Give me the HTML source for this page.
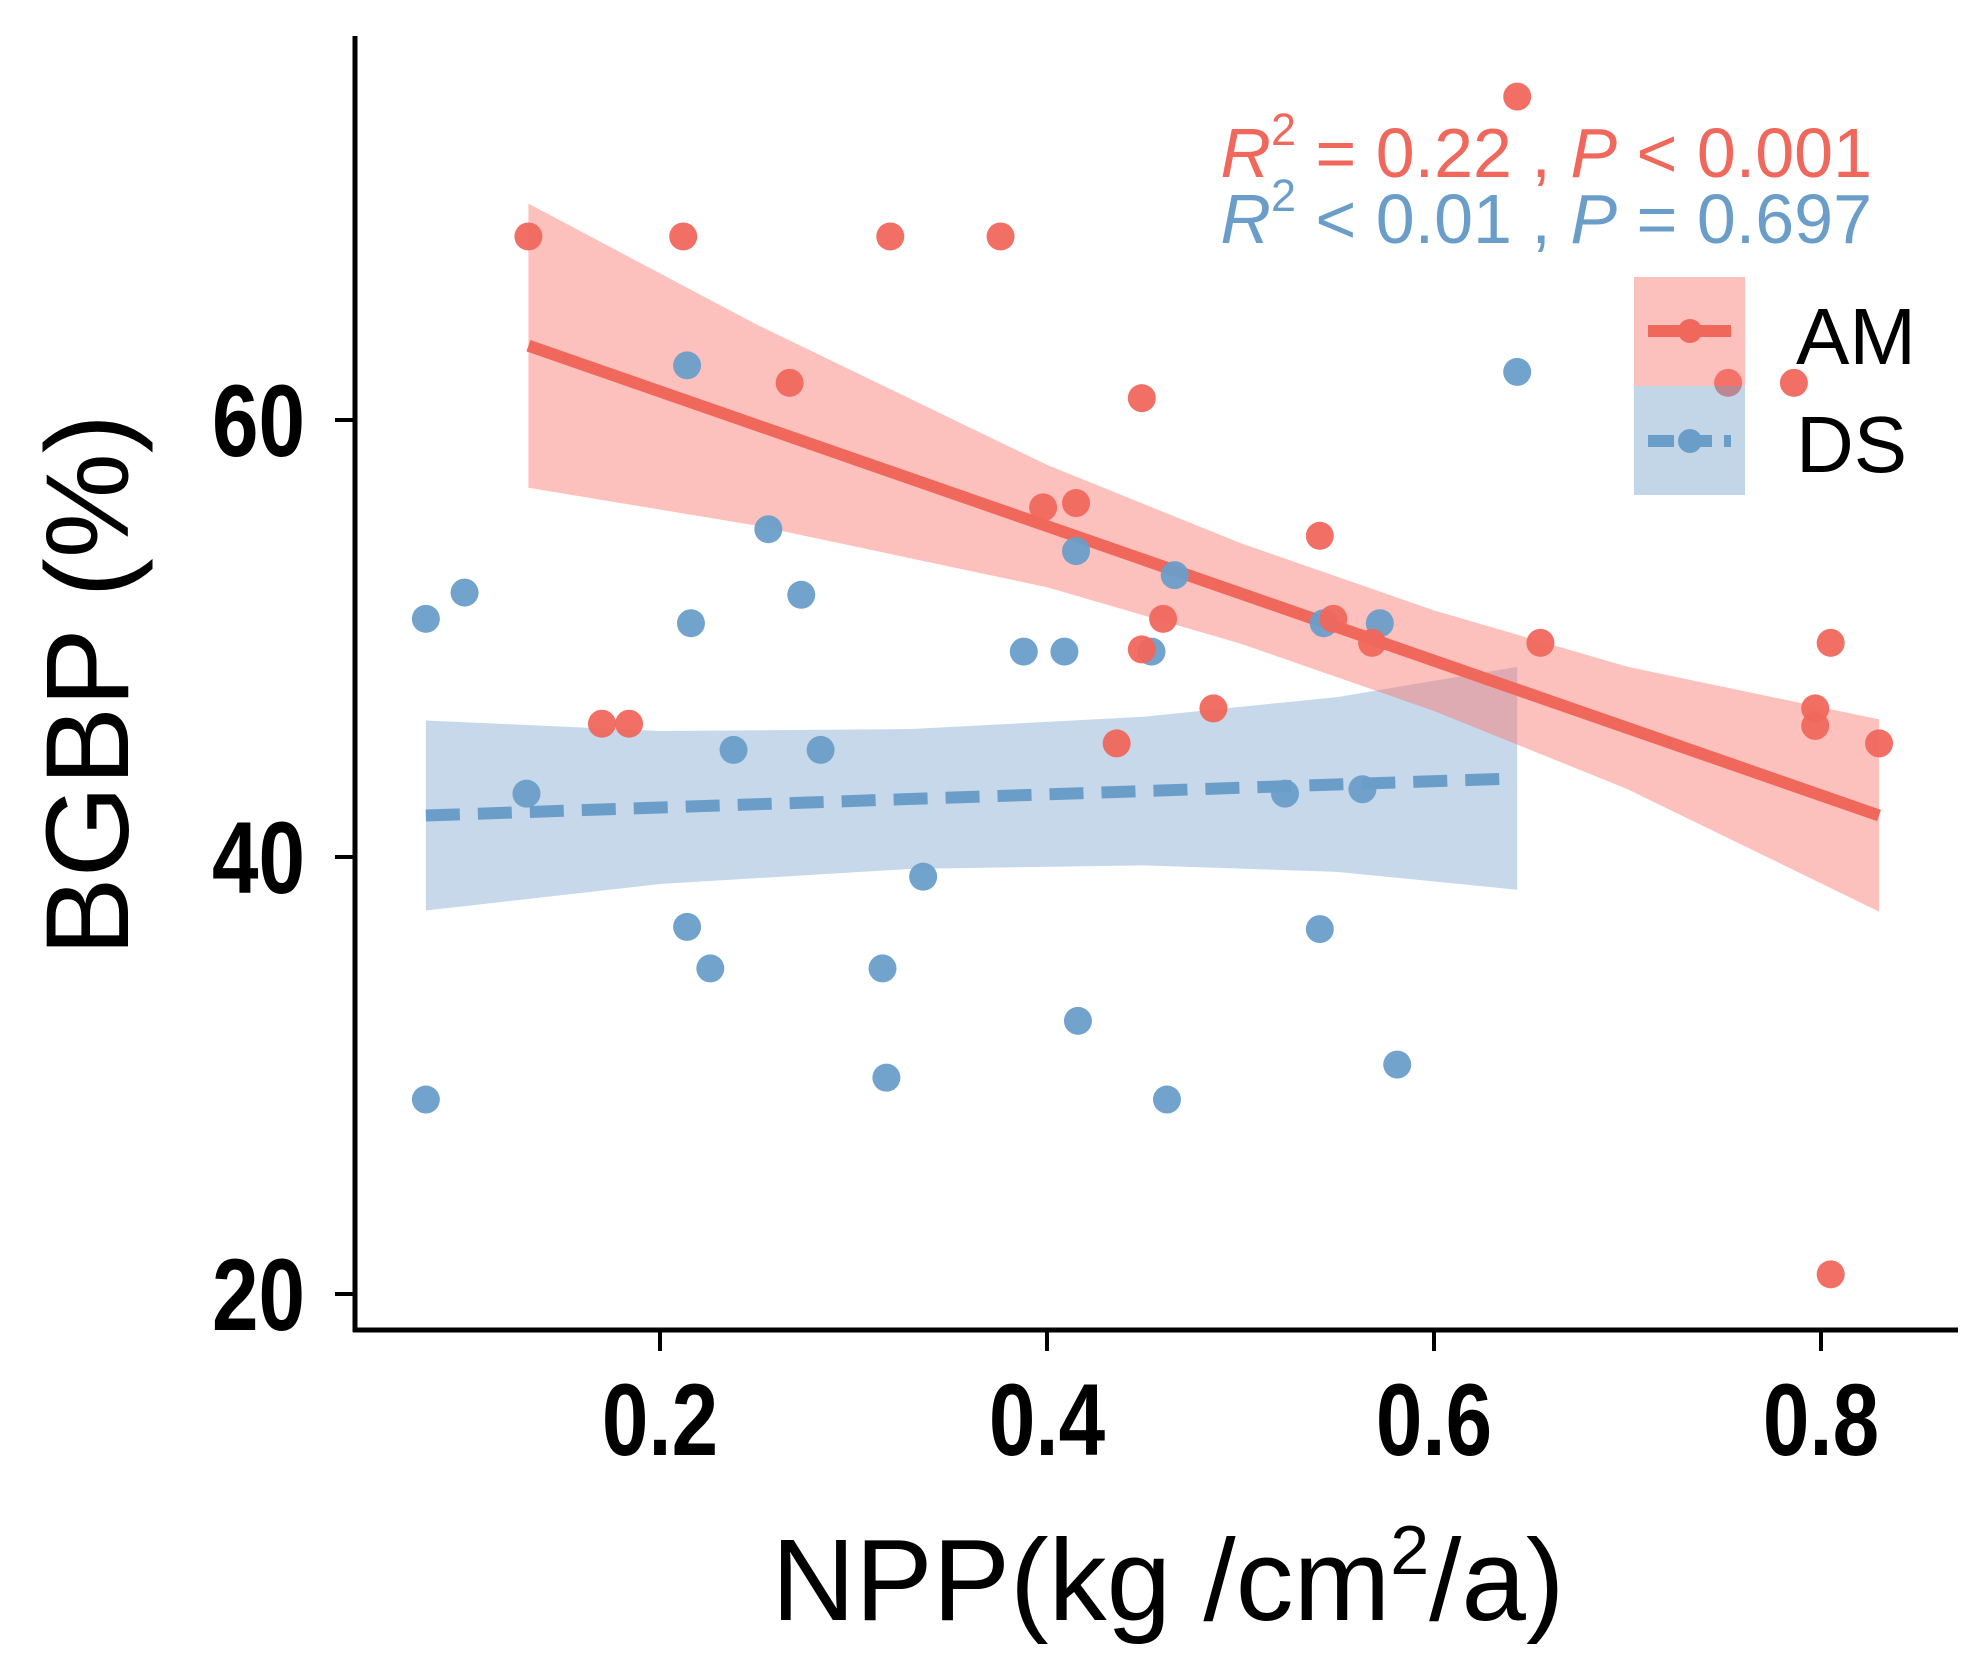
<!DOCTYPE html>
<html><head><meta charset="utf-8"><style>
html,body{margin:0;padding:0;background:#fff;}
svg{display:block;font-family:"Liberation Sans",Arial,sans-serif;}
</style></head><body>
<svg id="chart" width="1980" height="1672" viewBox="0 0 1980 1672" xmlns="http://www.w3.org/2000/svg">
<g id="bands"></g>
<g id="lines"></g>
<g id="points"></g>
<g id="axes"></g>
<text transform="translate(128,685) rotate(-90)" text-anchor="middle" font-size="118" fill="#000">BGBP (%)</text>
<text x="1168" y="1620" text-anchor="middle" font-size="116" fill="#000">NPP(kg /cm<tspan dy="-46" font-size="70">2</tspan><tspan dy="46">/a)</tspan></text>
<g font-size="70">
<text x="1872" y="177" text-anchor="end" fill="#f0675c"><tspan font-style="italic">R</tspan><tspan dy="-32" font-size="45">2</tspan><tspan dy="32"> = 0.22 , </tspan><tspan font-style="italic">P</tspan> &lt; 0.001</text>
<text x="1872" y="243" text-anchor="end" fill="#6a9ec9"><tspan font-style="italic">R</tspan><tspan dy="-32" font-size="45">2</tspan><tspan dy="32"> &lt; 0.01 , </tspan><tspan font-style="italic">P</tspan> = 0.697</text>
</g>
<g>
<rect x="1634" y="277" width="111" height="109" fill="#f8766d" fill-opacity="0.45"/>
<rect x="1634" y="386" width="111" height="109" fill="#7aa3cc" fill-opacity="0.45"/>
<line x1="1648" y1="331" x2="1731" y2="331" stroke="#f0675c" stroke-width="12"/>
<circle cx="1690" cy="331" r="12" fill="#f0675c"/>
<line x1="1648" y1="441" x2="1731" y2="441" stroke="#6a9ec9" stroke-width="12" stroke-dasharray="26,12"/>
<circle cx="1690" cy="441" r="12" fill="#6a9ec9"/>
<text x="1796" y="364" font-size="80" fill="#000">AM</text>
<text x="1796" y="472" font-size="80" fill="#000">DS</text>
</g>
</svg>
<script>
const amX=[0.132,0.212,0.319,0.376,0.643,0.267,0.449,0.398,0.415,0.541,0.460,0.548,0.568,0.449,0.655,0.805,0.170,0.184,0.486,0.436,0.797,0.797,0.830,0.752,0.786,0.805];
const amY=[68.4,68.4,68.4,68.4,74.8,61.7,61.0,56.0,56.2,54.7,50.9,50.9,49.8,49.5,49.8,49.8,46.1,46.1,46.8,45.2,46.8,46.0,45.2,61.7,61.7,20.9];
const dsX=[0.079,0.099,0.214,0.216,0.256,0.273,0.238,0.283,0.131,0.388,0.409,0.415,0.466,0.454,0.543,0.572,0.643,0.523,0.563,0.336,0.214,0.226,0.315,0.541,0.416,0.317,0.581,0.079,0.462];
const dsY=[50.9,52.1,62.5,50.7,55.0,52.0,44.9,44.9,42.9,49.4,49.4,54.0,52.9,49.4,50.7,50.7,62.2,42.9,43.1,39.1,36.8,34.9,34.9,36.7,32.5,29.9,30.5,28.9,28.9];
const amFitX=[0.132,0.830];
const amFitY=[63.4,41.9];
const dsFitX=[0.079,0.643];
const dsFitY=[41.9,43.6];
const amBandX=[0.132,0.25,0.4,0.5,0.6,0.7,0.83];
const amBandHalf=[6.5,4.6,2.8,2.3,2.3,2.8,4.4];
const dsBandX=[0.079,0.2,0.33,0.45,0.55,0.643];
const dsBandHalf=[4.35,3.5,3.2,3.4,4.0,5.1];
const xTicks=[0.2,0.4,0.6,0.8];
const yTicks=[20,40,60];
const xTickLabels=["0.2","0.4","0.6","0.8"];
const yTickLabels=["20","40","60"];

const NS="http://www.w3.org/2000/svg";
function sx(v){return 660+(v-0.2)*1935;}
function sy(v){return 857-(v-40)*21.85;}
function mk(tag,attrs,parent){const e=document.createElementNS(NS,tag);for(const k in attrs)e.setAttribute(k,attrs[k]);parent.appendChild(e);return e;}
function lineAt(fx,fy,x){return fy[0]+(fy[1]-fy[0])*(x-fx[0])/(fx[1]-fx[0]);}

const bands=document.getElementById('bands');
function band(xs,half,fx,fy,color,op,name){
  let up=[],lo=[];
  xs.forEach((x,i)=>{const c=lineAt(fx,fy,x);up.push(sx(x)+','+sy(c+half[i]));lo.unshift(sx(x)+','+sy(c-half[i]));});
  const p=mk('polygon',{points:up.concat(lo).join(' '),fill:color,'fill-opacity':op},bands);
  
  
}
band(dsBandX,dsBandHalf,dsFitX,dsFitY,'#7aa3cc',0.42,'ds-confidence-band');
band(amBandX,amBandHalf,amFitX,amFitY,'#f8766d',0.45,'am-confidence-band');

const lines=document.getElementById('lines');
const l1=mk('line',{x1:sx(amFitX[0]),y1:sy(amFitY[0]),x2:sx(amFitX[1]),y2:sy(amFitY[1]),stroke:'#f0675c','stroke-width':12},lines);


const l2=mk('line',{x1:sx(dsFitX[0]),y1:sy(dsFitY[0]),x2:sx(dsFitX[1]),y2:sy(dsFitY[1]),stroke:'#6a9ec9','stroke-width':12,'stroke-dasharray':'34,18'},lines);



const pts=document.getElementById('points');
dsX.forEach((x,i)=>{const c=mk('circle',{cx:sx(x),cy:sy(dsY[i]),r:14,fill:'#6a9ec9','fill-opacity':0.95},pts);

});
amX.forEach((x,i)=>{const c=mk('circle',{cx:sx(x),cy:sy(amY[i]),r:14,fill:'#f0675c','fill-opacity':0.95},pts);

});

const ax=document.getElementById('axes');
const ya=mk('line',{x1:355,y1:36,x2:355,y2:1332,stroke:'#000','stroke-width':5},ax);


const xa=mk('line',{x1:353,y1:1330,x2:1958,y2:1330,stroke:'#000','stroke-width':5},ax);


xTicks.forEach((v,i)=>{
  mk('line',{x1:sx(v),y1:1330,x2:sx(v),y2:1351,stroke:'#000','stroke-width':4},ax);
  const t=mk('text',{x:0,y:0,transform:'translate('+sx(v)+',1455) scale(0.82,1)','text-anchor':'middle','font-size':102,'font-weight':'bold',fill:'#000'},ax);
  t.textContent=xTickLabels[i];
  
  
});
yTicks.forEach((v,i)=>{
  mk('line',{x1:335,y1:sy(v),x2:355,y2:sy(v),stroke:'#000','stroke-width':4},ax);
  const t=mk('text',{x:0,y:0,transform:'translate(305,'+(sy(v)+36)+') scale(0.82,1)','text-anchor':'end','font-size':102,'font-weight':'bold',fill:'#000'},ax);
  t.textContent=yTickLabels[i];
  
  
});
</script>
</body></html>
